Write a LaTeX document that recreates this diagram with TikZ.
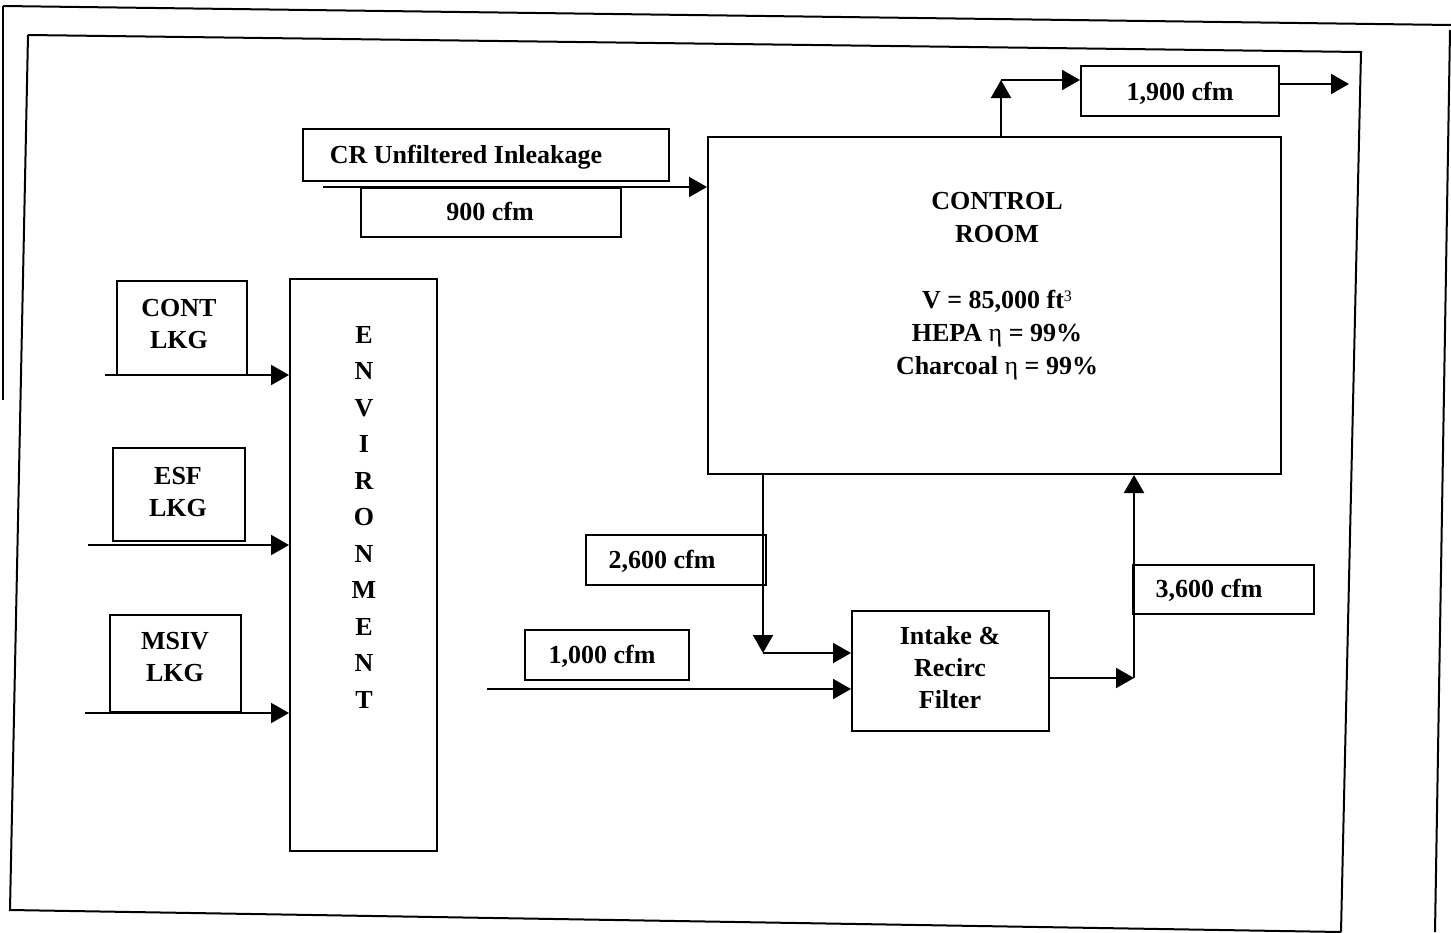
\documentclass[tikz,border=0pt]{standalone}
\usepackage{fontspec}
\setmainfont{Liberation Serif}
\usetikzlibrary{arrows.meta,fit}

\begin{document}
\begin{tikzpicture}[x=.5pt,y=-.5pt,line width=1pt,
  box/.style={draw,inner sep=0pt},
  txt/.style={inner sep=0pt,align=center,font=\fontsize{13}{16}\selectfont\bfseries},
  flow/.style={-{Triangle[length=9pt,width=10pt]}}]
\path[use as bounding box] (0,0) rectangle (1451,932);
\draw (3,6) -- (1451,25);
\draw (3,6) -- (3,400);
\draw (1450,30) -- (1435,932);
\draw (28,35) -- (1361,52) -- (1341,932);
\draw (28,35) -- (10,910) -- (1341,932);
\node[box,fit={(303,129) (669,181)}] (crbox) {};
\node[box,fit={(361,188) (621,237)}] (cfmnine) {};
\node[box,fit={(708,137) (1281,474)}] (ctrl) {};
\node[box,fit={(1081,66) (1279,116)}] (cfmout) {};
\node[box,fit={(117,281) (247,375)}] (cont) {};
\node[box,fit={(113,448) (245,541)}] (esf) {};
\node[box,fit={(110,615) (241,712)}] (msiv) {};
\node[box,fit={(290,279) (437,851)}] (env) {};
\node[box,fit={(586,535) (766,585)}] (cfmrec) {};
\node[box,fit={(525,630) (689,680)}] (cfmin) {};
\node[box,fit={(852,611) (1049,731)}] (filter) {};
\node[box,fit={(1133,565) (1314,614)}] (cfmsup) {};
\node[txt,anchor=base] (crtext) at (466,163) {CR Unfiltered Inleakage};
\node[txt,anchor=base] (ninetext) at (490,220) {900 cfm};
\node[txt,anchor=base] (outtext) at (1180,100) {1,900 cfm};
\node[txt,anchor=north,font=\fontsize{13}{16.5}\selectfont\bfseries] (ctrltext) at (997,191)
  {CONTROL\\ROOM\\[16.5pt]V = 85,000 ft{\mdseries\fontsize{8}{8}\selectfont\raisebox{.9ex}{3}}\\HEPA {\mdseries η} = 99\%\\Charcoal {\mdseries η} = 99\%};
\node[txt,anchor=north] (conttext) at (179,298) {CONT\\LKG};
\node[txt,anchor=north] (esftext) at (178,466) {ESF\\LKG};
\node[txt,anchor=north] (msivtext) at (175,631) {MSIV\\LKG};
\node[txt,anchor=north,font=\fontsize{13}{18.25}\selectfont\bfseries] (envtext) at (364,325)
  {E\\N\\V\\I\\R\\O\\N\\M\\E\\N\\T};
\node[txt,anchor=north] (filtertext) at (950,625) {Intake \&\\Recirc\\Filter};
\node[txt,anchor=base] (rectext) at (662,568) {2,600 cfm};
\node[txt,anchor=base] (intext) at (602,663) {1,000 cfm};
\node[txt,anchor=base] (suptext) at (1209,597) {3,600 cfm};
\coordinate (crsrc) at (323,187);
\coordinate (upbend) at (1001,80);
\coordinate (outend) at (1349,84);
\coordinate (contsrc) at (105,375);
\coordinate (esfsrc) at (88,545);
\coordinate (msivsrc) at (85,713);
\coordinate (dropbend) at (763,653);
\coordinate (freshsrc) at (487,689);
\coordinate (risebend) at (1134,678);
\draw[flow] (crsrc) -- (crsrc -| ctrl.west);
\draw[flow] (upbend |- ctrl.north) -- (upbend);
\draw[flow] (upbend) -- (upbend -| cfmout.west);
\draw[flow] (cfmout.east |- outend) -- (outend);
\draw[flow] (contsrc) -- (contsrc -| env.west);
\draw[flow] (esfsrc) -- (esfsrc -| env.west);
\draw[flow] (msivsrc) -- (msivsrc -| env.west);
\draw[flow] (dropbend |- ctrl.south) -- (dropbend);
\draw[flow] (dropbend) -- (dropbend -| filter.west);
\draw[flow] (freshsrc) -- (freshsrc -| filter.west);
\draw[flow] (filter.east |- risebend) -- (risebend);
\draw[flow] (risebend) -- (risebend |- ctrl.south);
\end{tikzpicture}
\end{document}
